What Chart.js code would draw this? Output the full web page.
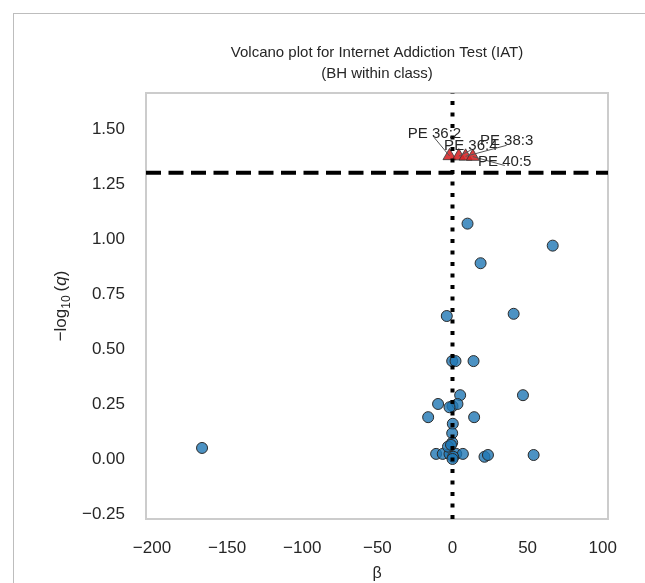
<!DOCTYPE html>
<html>
<head>
<meta charset="utf-8">
<script src="https://cdn.jsdelivr.net/npm/chart.js@4.4.1/dist/chart.umd.min.js"></script>
<style>
  body { margin: 0; background: #fff; }
  #wrap { position: relative; width: 645px; height: 583px; }
  #frame { position: absolute; left: 13px; top: 13px; right: 0; bottom: 0;
           border-left: 1px solid #bdbdbd; border-top: 1px solid #bdbdbd; pointer-events: none; }
</style>
</head>
<body>
<div id="wrap">
  <canvas id="volcanoChart" width="645" height="583"></canvas>
  <div id="frame"></div>
</div>
<script>
// non-significant lipids: effect size and -log10(q)
const nsBeta = [-166.7, 10, 66.7, 18.7, 40.7, -3.8, -0.2, 2, 14, 5.1, -9.6, 0, 3.3, -2, 46.9,
  -16.2, 14.4, 0.2, -0.2, -0.2, -10.9, -6.5, -2, 2.5, 6.9, -3, -1, 0.5, 0, 21.3, 23.6, 54];
const nsLogQ = [0.05, 1.07, 0.97, 0.89, 0.66, 0.65, 0.445, 0.445, 0.445, 0.29, 0.25, 0.24, 0.25, 0.235, 0.29,
  0.19, 0.19, 0.16, 0.117, 0.074, 0.023, 0.023, 0.023, 0.023, 0.023, 0.056, 0.064, 0.01, 0.0, 0.01, 0.018, 0.018];

// significant lipids (q < 0.05)
const sigNames = ['PE 36:2', 'PE 36:4', 'PE 38:3', 'PE 40:5'];
const sigBeta = [-2, 4.2, 8.7, 13.5];
const sigLogQ = [1.378, 1.377, 1.376, 1.375];

const qThreshold = -Math.log10(0.05);
const xRange = [-204, 103.5];
const yRange = [-0.273, 1.664];
const xTicks = [-200, -150, -100, -50, 0, 50, 100];
const yTicks = [-0.25, 0, 0.25, 0.5, 0.75, 1.0, 1.25, 1.5];

// label offsets (px) from each triangle, like adjustText output
const labelOffsets = [[-15, -22], [12, -10], [41, -15], [32, 5]];

const FONT = "'Liberation Sans', Arial, sans-serif";
const minus = s => String(s).replace('-', '\u2212');

const frameAndLabels = {
  id: 'frameAndLabels',
  beforeDatasetsDraw(chart) {
    const { ctx, chartArea: a } = chart;
    ctx.save();
    ctx.strokeStyle = '#cccccc';
    ctx.lineWidth = 2;
    ctx.strokeRect(a.left, a.top, a.right - a.left, a.bottom - a.top);
    ctx.restore();
  },
  afterDatasetsDraw(chart) {
    const { ctx, chartArea: a } = chart;
    const xs = chart.scales.x, ys = chart.scales.y;
    ctx.save();
    ctx.font = '15px ' + FONT;
    ctx.textAlign = 'center';
    ctx.textBaseline = 'middle';
    sigNames.forEach((name, i) => {
      const px = xs.getPixelForValue(sigBeta[i]);
      const py = ys.getPixelForValue(sigLogQ[i]);
      const tx = px + labelOffsets[i][0];
      const ty = py + labelOffsets[i][1];
      ctx.strokeStyle = '#555';
      ctx.lineWidth = 1;
      ctx.beginPath();
      ctx.moveTo(px, py);
      ctx.lineTo(tx, ty + 4);
      ctx.stroke();
      ctx.fillStyle = '#262626';
      ctx.fillText(name, tx, ty);
    });
    ctx.restore();

    // y axis title: -log10(q) with subscript and italic q
    const parts = [
      { t: '\u2212log', f: '17px ' + FONT, dy: 0 },
      { t: '10', f: '12px ' + FONT, dy: 4 },
      { t: '(', f: '17px ' + FONT, dy: 0 },
      { t: 'q', f: 'italic 17px ' + FONT, dy: 0 },
      { t: ')', f: '17px ' + FONT, dy: 0 },
    ];
    ctx.save();
    let total = 0;
    parts.forEach(p => { ctx.font = p.f; p.w = ctx.measureText(p.t).width; total += p.w; });
    total += 4;
    ctx.translate(66, (a.top + a.bottom) / 2);
    ctx.rotate(-Math.PI / 2);
    ctx.fillStyle = '#262626';
    ctx.textBaseline = 'alphabetic';
    ctx.textAlign = 'left';
    let cx = -total / 2;
    parts.forEach((p, i) => {
      ctx.font = p.f;
      ctx.fillText(p.t, cx, p.dy);
      cx += p.w + (i === 1 ? 4 : 0);
    });
    ctx.restore();
  }
};

new Chart(document.getElementById('volcanoChart'), {
  type: 'scatter',
  data: {
    datasets: [
      {
        type: 'line',
        data: [{ x: 0, y: yRange[0] }, { x: 0, y: yRange[1] }],
        borderColor: '#000',
        borderWidth: 4,
        borderDash: [4, 7.5],
        pointRadius: 0,
        showLine: true,
      },
      {
        type: 'line',
        data: [{ x: xRange[0], y: qThreshold }, { x: xRange[1], y: qThreshold }],
        borderColor: '#000',
        borderWidth: 4,
        borderDash: [15, 7.5],
        pointRadius: 0,
        showLine: true,
      },
      {
        label: 'q < 0.05',
        data: sigBeta.map((b, i) => ({ x: b, y: sigLogQ[i] })),
        pointStyle: 'triangle',
        pointRadius: 7.5,
        backgroundColor: 'rgba(214,39,40,0.9)',
        borderColor: '#333',
        borderWidth: 0.8,
      },
      {
        label: 'n.s.',
        data: nsBeta.map((b, i) => ({ x: b, y: nsLogQ[i] })),
        pointRadius: 5.5,
        backgroundColor: 'rgba(31,119,180,0.8)',
        borderColor: '#2a2a2a',
        borderWidth: 1,
      }
    ]
  },
  options: {
    responsive: false,
    animation: false,
    layout: { padding: { left: 52, right: 37, top: 0, bottom: 0 } },
    plugins: {
      legend: { display: false },
      tooltip: { enabled: false },
      title: {
        display: true,
        fullSize: false,
        text: ['Volcano plot for Internet Addiction Test (IAT)', '(BH within class)'],
        color: '#262626',
        font: { family: FONT, size: 15, weight: 'normal', lineHeight: 1.4 },
        padding: { top: 42, bottom: 9 },
      }
    },
    scales: {
      x: {
        type: 'linear',
        min: xRange[0],
        max: xRange[1],
        grid: { display: false },
        border: { display: false },
        afterBuildTicks: s => { s.ticks = xTicks.map(v => ({ value: v })); },
        afterFit: s => { s.height = 64; },
        ticks: {
          color: '#262626',
          padding: 11,
          font: { family: FONT, size: 17 },
          callback: v => minus(v),
        },
        title: {
          display: true,
          text: '\u03b2',
          color: '#262626',
          font: { family: FONT, size: 16 },
          padding: { top: 4, bottom: 0 },
        }
      },
      y: {
        type: 'linear',
        min: yRange[0],
        max: yRange[1],
        grid: { display: false },
        border: { display: false },
        afterBuildTicks: s => { s.ticks = yTicks.map(v => ({ value: v })); },
        afterFit: s => { s.width = 94; },
        ticks: {
          color: '#262626',
          padding: 13,
          font: { family: FONT, size: 17 },
          callback: v => minus(Number(v).toFixed(2)),
        },
        title: { display: false }
      }
    }
  },
  plugins: [frameAndLabels]
});
</script>
</body>
</html>
